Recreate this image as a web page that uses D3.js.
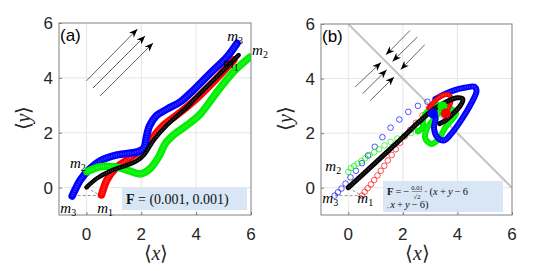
<!DOCTYPE html>
<html>
<head>
<meta charset="utf-8">
<script src="https://cdn.jsdelivr.net/npm/d3@7"></script>
<style>
  body { margin: 0; background: #fff; }
  svg { display: block; }
</style>
</head>
<body>
<svg id="chart" width="540" height="271"></svg>
<script>
  // Axis setup shared by both panels
  var DOMAIN = [-1, 6]
  var TICKS = [0, 2, 4, 6]
  var TICK_LABELS = ['0', '2', '4', '6']

  // Panel (a): constant field, dense trajectories of the three masses + centre
  var aBlue = [[-0.52, -0.31], [-0.22, 0.28], [0.08, 0.64], [0.51, 0.98], [1.12, 1.19], [1.85, 1.3], [2.08, 1.42],
    [2.2, 1.9], [2.3, 2.25], [2.55, 2.62], [2.94, 2.86], [3.43, 3.13], [3.91, 3.56], [4.52, 4.17], [5.13, 4.77], [5.49, 5.26]]
  var aRed = [[0.55, -0.27], [0.75, 0.28], [1.06, 0.7], [1.48, 1.0], [1.9, 1.3], [2.2, 1.5], [2.45, 1.86],
    [2.82, 2.28], [3.43, 2.75], [4.03, 3.26], [4.64, 3.86], [5.37, 4.65]]
  var aGreen = [[0.02, 0.58], [0.51, 0.76], [1.0, 0.76], [1.48, 0.64], [1.97, 0.5], [2.33, 0.7], [2.64, 1.13],
    [2.88, 1.61], [3.18, 1.92], [3.67, 2.28], [4.15, 2.68], [4.77, 3.5], [5.37, 4.23], [5.95, 4.75]]
  var aBlack = [[0, 0.01], [0.39, 0.34], [0.87, 0.6], [1.48, 0.82], [1.85, 0.98], [2.1, 1.2], [2.46, 1.74],
    [2.94, 2.28], [3.55, 2.83], [4.15, 3.44], [4.77, 4.05], [5.55, 4.83]]
  var aArrows = [[0, 3.89, 1.86, 5.78], [0.24, 3.63, 2.14, 5.53], [0.5, 3.34, 2.43, 5.27]]

  // Panel (b): field towards the line x + y = 6
  var bBlueSparse = [[-0.5, -0.29], [-0.38, -0.17], [-0.25, -0.03], [-0.1, 0.15], [0.08, 0.38], [0.28, 0.62],
    [0.5, 0.9], [0.72, 1.18], [0.97, 1.5], [1.25, 1.85], [1.55, 2.2], [1.87, 2.5], [2.2, 2.78], [2.55, 3.0],
    [2.9, 3.15], [3.2, 3.25]]
  var bBlueLoop = [[3.2, 3.25], [3.5, 3.42], [3.9, 3.58], [4.3, 3.67], [4.62, 3.7], [4.7, 3.55], [4.5, 3.08],
    [4.12, 2.45], [3.75, 1.95], [3.5, 1.73], [3.27, 1.84], [3.14, 2.2], [3.2, 2.55], [3.1, 2.72]]
  var bRedSparse = [[0.5, -0.29], [0.6, -0.15], [0.71, -0.02], [0.83, 0.12], [0.95, 0.28], [1.07, 0.45],
    [1.19, 0.62], [1.32, 0.8], [1.45, 1.0], [1.59, 1.2], [1.74, 1.41], [1.9, 1.65], [2.07, 1.88], [2.27, 2.12],
    [2.48, 2.38], [2.72, 2.65], [2.96, 2.92]]
  var bRedLoop = [[2.96, 2.92], [3.2, 3.2], [3.5, 3.4], [3.72, 3.38], [3.75, 3.1], [3.62, 2.85], [3.57, 2.72]]
  var bGreenSparse = [[0, 0.58], [0.1, 0.72], [0.22, 0.8], [0.34, 0.88], [0.48, 0.98], [0.62, 1.08], [0.78, 1.2],
    [0.95, 1.3], [1.13, 1.41], [1.33, 1.55], [1.55, 1.68], [1.8, 1.8], [2.05, 1.9], [2.3, 2.0], [2.55, 2.07]]
  var bGreenLoop = [[2.55, 2.07], [2.72, 2.2], [2.75, 2.55], [2.95, 2.85], [3.2, 3.02], [3.45, 2.98], [3.2, 2.6],
    [2.9, 2.2], [2.82, 1.82], [3.05, 1.6], [3.33, 1.8], [3.55, 2.2], [3.8, 2.5], [3.95, 2.72], [3.7, 2.92], [3.45, 2.98]]
  var bBlack = [[0, 0], [1, 0.92], [2, 1.85], [2.6, 2.42], [3.1, 2.85], [3.6, 3.15], [4.0, 3.3], [4.2, 3.25],
    [4.1, 3.0], [3.8, 2.68], [3.5, 2.42], [3.35, 2.35]]
  var bBlobs = [[3.1, 2.72, 'blue'], [3.45, 2.98, 'green'], [3.57, 2.72, 'red']]
  var bArrows = [[0.25, 3.69, 1.2, 4.59], [0.52, 3.44, 1.41, 4.32], [0.8, 3.19, 1.68, 4.06],
    [2.26, 5.76, 1.38, 4.87], [2.53, 5.52, 1.62, 4.63], [2.8, 5.24, 1.92, 4.33]]
  var bLine = [[0, 6], [6, 0]]

  // initial triangle of the masses (m1, m2, m3) and its centre
  var start = { m1: [0.5, -0.29], m2: [0, 0.58], m3: [-0.5, -0.29], c: [0, 0] }

  var COLORS = { blue: '#0000ff', red: '#ff0000', green: '#00ee00', black: '#000000' }
  var MATH_FONT = '"Liberation Serif", "DejaVu Serif", serif'
  var THIN = '\u2009'

  var svg = d3.select('#chart')

  var defs = svg.append('defs')
  defs.append('marker')
    .attr('id', 'head')
    .attr('viewBox', '0 0 10 8')
    .attr('markerUnits', 'userSpaceOnUse')
    .attr('markerWidth', 10)
    .attr('markerHeight', 7)
    .attr('refX', 10)
    .attr('refY', 4)
    .attr('orient', 'auto')
    .append('path')
    .attr('d', 'M0,0 L10,4 L0,8 L3,4 Z')
    .attr('fill', '#000')

  function makePanel (left, top, size, id) {
    var x = d3.scaleLinear().domain(DOMAIN).range([left, left + size])
    var y = d3.scaleLinear().domain(DOMAIN).range([top + size, top])
    var g = svg.append('g')

    defs.append('clipPath').attr('id', 'clip-' + id)
      .append('rect').attr('x', left).attr('y', top).attr('width', size).attr('height', size)

    // grid
    g.append('g').selectAll('line.gx')
      .data(TICKS.slice(0, 3)).enter().append('line')
      .attr('x1', function (d) { return x(d) }).attr('x2', function (d) { return x(d) })
      .attr('y1', top).attr('y2', top + size)
      .attr('stroke', '#e6e6e6').attr('stroke-width', 1)
    g.append('g').selectAll('line.gy')
      .data(TICKS.slice(0, 3)).enter().append('line')
      .attr('y1', function (d) { return y(d) }).attr('y2', function (d) { return y(d) })
      .attr('x1', left).attr('x2', left + size)
      .attr('stroke', '#e6e6e6').attr('stroke-width', 1)

    // axes with inward ticks, labels done by hand for the spacing
    var xAxis = d3.axisBottom(x).tickValues(TICKS).tickSizeInner(-3).tickSizeOuter(0).tickFormat('')
    var yAxis = d3.axisLeft(y).tickValues(TICKS).tickSizeInner(-3).tickSizeOuter(0).tickFormat('')
    g.append('g').attr('transform', 'translate(0,' + (top + size) + ')').call(xAxis)
      .call(function (s) { s.select('.domain').remove(); s.selectAll('line').attr('stroke', '#7f7f7f') })
    g.append('g').attr('transform', 'translate(' + left + ',0)').call(yAxis)
      .call(function (s) { s.select('.domain').remove(); s.selectAll('line').attr('stroke', '#7f7f7f') })

    g.append('g').selectAll('text')
      .data(TICKS).enter().append('text')
      .attr('x', function (d) { return x(d) })
      .attr('y', top + size + 25)
      .attr('text-anchor', 'middle')
      .style('font', '17px "Liberation Sans", Arial, sans-serif')
      .attr('fill', '#262626')
      .text(function (d, i) { return TICK_LABELS[i] })
    g.append('g').selectAll('text')
      .data(TICKS).enter().append('text')
      .attr('x', left - 6)
      .attr('y', function (d) { return y(d) + 6 })
      .attr('text-anchor', 'end')
      .style('font', '17px "Liberation Sans", Arial, sans-serif')
      .attr('fill', '#262626')
      .text(function (d, i) { return TICK_LABELS[i] })

    // axis titles <x>, <y>
    var xt = g.append('text')
      .attr('x', left + size / 2 + 1)
      .attr('y', top + size + 45)
      .attr('text-anchor', 'middle')
      .attr('fill', '#262626')
      .style('font-size', '20px')
    xt.append('tspan').style('font-family', '"DejaVu Sans"').style('font-weight', 200).text('\u27E8')
    xt.append('tspan').style('font-family', MATH_FONT).style('font-style', 'italic').text('x')
    xt.append('tspan').style('font-family', '"DejaVu Sans"').style('font-weight', 200).text('\u27E9')

    var yt = g.append('text')
      .attr('transform', 'translate(' + (left - 29) + ',' + (top + size / 2 - 1) + ') rotate(-90)')
      .attr('text-anchor', 'middle')
      .attr('fill', '#262626')
      .style('font-size', '20px')
    yt.append('tspan').style('font-family', '"DejaVu Sans"').style('font-weight', 200).text('\u27E8')
    yt.append('tspan').style('font-family', MATH_FONT).style('font-style', 'italic').text('y')
    yt.append('tspan').style('font-family', '"DejaVu Sans"').style('font-weight', 200).text('\u27E9')

    var plot = g.append('g').attr('clip-path', 'url(#clip-' + id + ')')

    return { g: g, plot: plot, x: x, y: y, left: left, top: top, size: size }
  }

  function drawFrame (p) {
    p.g.append('rect')
      .attr('x', p.left).attr('y', p.top).attr('width', p.size).attr('height', p.size)
      .attr('fill', 'none').attr('stroke', '#808080').attr('stroke-width', 1)
  }

  function band (p, data, color, w) {
    var line = d3.line()
      .x(function (d) { return p.x(d[0]) })
      .y(function (d) { return p.y(d[1]) })
      .curve(d3.curveCatmullRom)
    p.plot.append('path').datum(data)
      .attr('d', line)
      .attr('fill', 'none')
      .attr('stroke', color)
      .attr('stroke-width', w)
      .attr('stroke-linecap', 'round')
      .attr('stroke-linejoin', 'round')
    // a lighter core, so the band reads like overlapping rings
    p.plot.append('path').datum(data)
      .attr('d', line)
      .attr('fill', 'none')
      .attr('stroke', '#fff')
      .attr('stroke-opacity', 0.22)
      .attr('stroke-width', w * 0.35)
      .attr('stroke-dasharray', '1.2 1.2')
  }

  function rings (p, data, color) {
    p.plot.append('g').selectAll('circle')
      .data(data).enter().append('circle')
      .attr('cx', function (d) { return p.x(d[0]) })
      .attr('cy', function (d) { return p.y(d[1]) })
      .attr('r', 2.8)
      .attr('fill', 'none')
      .attr('stroke', color)
      .attr('stroke-opacity', 0.75)
      .attr('stroke-width', 0.9)
  }

  function arrows (p, data) {
    p.plot.append('g').selectAll('line')
      .data(data).enter().append('line')
      .attr('x1', function (d) { return p.x(d[0]) })
      .attr('y1', function (d) { return p.y(d[1]) })
      .attr('x2', function (d) { return p.x(d[2]) })
      .attr('y2', function (d) { return p.y(d[3]) })
      .attr('stroke', '#222')
      .attr('stroke-width', 0.7)
      .attr('marker-end', 'url(#head)')
  }

  function startLines (p) {
    var segs = [[start.m3, start.m1], [start.c, start.m1]]
    p.plot.append('g').selectAll('line')
      .data(segs).enter().append('line')
      .attr('x1', function (d) { return p.x(d[0][0]) })
      .attr('y1', function (d) { return p.y(d[0][1]) })
      .attr('x2', function (d) { return p.x(d[1][0]) })
      .attr('y2', function (d) { return p.y(d[1][1]) })
      .attr('stroke', '#777')
      .attr('stroke-width', 0.8)
      .attr('stroke-dasharray', '3 2')
  }

  function massLabel (p, pos, idx) {
    var t = p.g.append('text')
      .attr('x', p.x(pos[0]))
      .attr('y', p.y(pos[1]))
      .attr('fill', '#000')
      .style('font-family', MATH_FONT)
    t.append('tspan').style('font-style', 'italic').style('font-size', '15px').text('m')
    t.append('tspan').attr('dy', 3).style('font-size', '10px').text(idx)
  }

  function panelTag (p, txt) {
    p.g.append('text')
      .attr('x', p.left + 1)
      .attr('y', p.top + 18)
      .style('font', '17px "Liberation Sans", Arial, sans-serif')
      .attr('fill', '#000')
      .text(txt)
  }

  // ---------- panel (a) ----------
  var pa = makePanel(59, 23, 192, 'a')
  arrows(pa, aArrows)
  startLines(pa)
  band(pa, aRed, COLORS.red, 7.5)
  band(pa, aBlue, COLORS.blue, 7.5)
  band(pa, aGreen, COLORS.green, 7.5)
  band(pa, aBlack, COLORS.black, 4.5)
  drawFrame(pa)
  panelTag(pa, '(a)')
  massLabel(pa, [-0.6, 0.71], '2')
  massLabel(pa, [-0.95, -0.93], '3')
  massLabel(pa, [0.39, -0.93], '1')
  massLabel(pa, [5.13, 5.34], '3')
  massLabel(pa, [6.04, 4.83], '2')
  massLabel(pa, [4.98, 4.36], '1')

  var legA = pa.g.append('g')
  legA.append('rect')
    .attr('x', 122).attr('y', 188).attr('width', 125).attr('height', 22)
    .attr('fill', '#d8e6f6')
  var ta = legA.append('text')
    .attr('x', 126).attr('y', 204)
    .style('font-family', MATH_FONT).style('font-size', '14px').attr('fill', '#111')
  ta.append('tspan').style('font-weight', 'bold').text('F')
  ta.append('tspan').text(' = (0.001, 0.001)')

  // ---------- panel (b) ----------
  var pb = makePanel(321, 24, 191, 'b')
  pb.plot.append('path').datum(bLine)
    .attr('d', d3.line().x(function (d) { return pb.x(d[0]) }).y(function (d) { return pb.y(d[1]) }))
    .attr('stroke', '#c4c4c4').attr('stroke-width', 2).attr('fill', 'none')
  arrows(pb, bArrows)
  startLines(pb)
  rings(pb, bBlueSparse, COLORS.blue)
  rings(pb, bRedSparse, COLORS.red)
  rings(pb, bGreenSparse, COLORS.green)
  band(pb, bGreenLoop, COLORS.green, 6)
  band(pb, bBlueLoop, COLORS.blue, 6)
  band(pb, bRedLoop, COLORS.red, 5)
  band(pb, bBlack, COLORS.black, 5)
  pb.plot.append('g').selectAll('circle')
    .data(bBlobs).enter().append('circle')
    .attr('cx', function (d) { return pb.x(d[0]) })
    .attr('cy', function (d) { return pb.y(d[1]) })
    .attr('r', 5)
    .attr('fill', function (d) { return COLORS[d[2]] })
  drawFrame(pb)
  panelTag(pb, '(b)')
  massLabel(pb, [-0.84, 0.6], '2')
  massLabel(pb, [-0.95, -0.56], '3')
  massLabel(pb, [0.33, -0.56], '1')

  // legend of (b): F = -(0.01/sqrt2) . (x + y - 6, x + y - 6)
  var legB = pb.g.append('g')
    .style('font-family', MATH_FONT).attr('fill', '#111')
  legB.append('rect')
    .attr('x', 383).attr('y', 181).attr('width', 120).attr('height', 31)
    .attr('fill', '#d8e6f6')
  var tb = legB.append('text').attr('x', 387).attr('y', 195).style('font-size', '10.5px')
  tb.append('tspan').style('font-weight', 'bold').text('F')
  tb.append('tspan').text(THIN + '=' + THIN + '\u2212')
  legB.append('text').attr('x', 417).attr('y', 189.5).attr('text-anchor', 'middle')
    .style('font-size', '6.5px').text('0.01')
  legB.append('line')
    .attr('x1', 412).attr('x2', 422).attr('y1', 191.5).attr('y2', 191.5)
    .attr('stroke', '#111').attr('stroke-width', 0.4)
  legB.append('text').attr('x', 417).attr('y', 198.5).attr('text-anchor', 'middle')
    .style('font-size', '6.5px').text('\u221A2')
  var tb1 = legB.append('text').attr('x', 424).attr('y', 195).style('font-size', '10.5px')
  tb1.append('tspan').text('\u00B7' + THIN + '(')
  tb1.append('tspan').style('font-style', 'italic').text('x')
  tb1.append('tspan').text(THIN + '+' + THIN)
  tb1.append('tspan').style('font-style', 'italic').text('y')
  tb1.append('tspan').text(THIN + '\u2212' + THIN + '6')
  var tb2 = legB.append('text').attr('x', 387).attr('y', 208).style('font-size', '10.5px')
  tb2.append('tspan').style('font-size', '7px').text(',' + THIN)
  tb2.append('tspan').style('font-style', 'italic').text('x')
  tb2.append('tspan').text(THIN + '+' + THIN)
  tb2.append('tspan').style('font-style', 'italic').text('y')
  tb2.append('tspan').text(THIN + '\u2212' + THIN + '6)')
</script>
</body>
</html>
